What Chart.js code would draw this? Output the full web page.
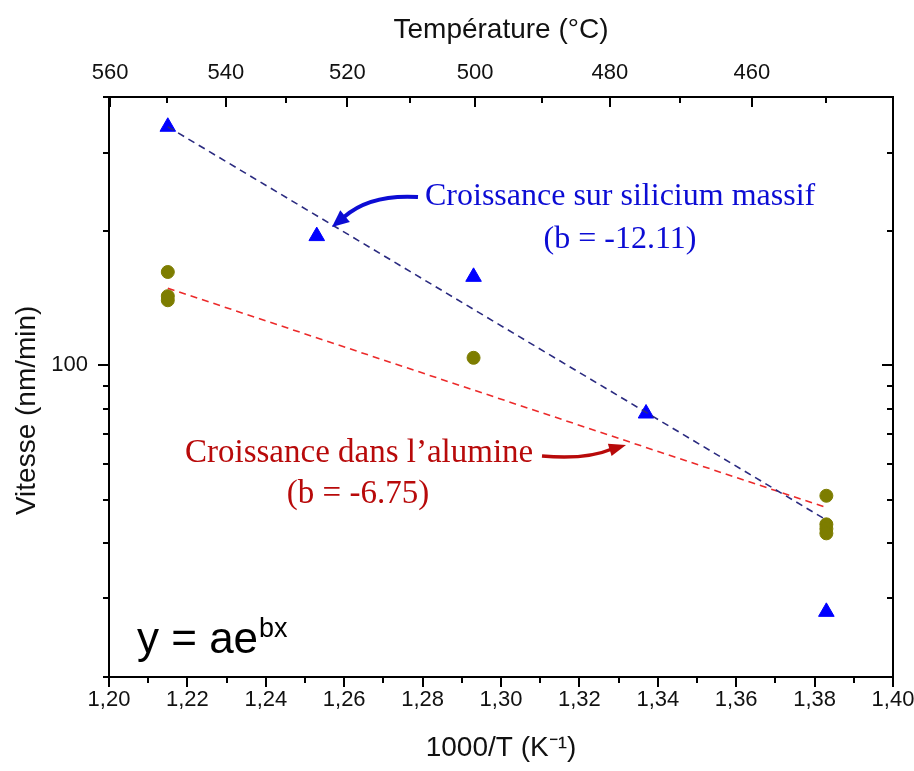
<!DOCTYPE html>
<html>
<head>
<meta charset="utf-8">
<script src="https://cdn.jsdelivr.net/npm/chart.js@4.4.0/dist/chart.umd.min.js"></script>
<style>
  html, body { margin: 0; padding: 0; background: #fff; }
</style>
</head>
<body>
<canvas id="chart" width="914" height="771"></canvas>
<script>
// 1000/T (K^-1) of the growth temperatures 550, 525, 500, 475, 450 °C
const invTemp = [1.215, 1.253, 1.293, 1.337, 1.383];
// growth rate on bulk silicon (nm/min)
const siliconRate = [343, 195, 158, 78, 28];
// growth rate inside the alumina (nm/min)
const aluminaX = [1.215, 1.215, 1.215, 1.293, 1.383, 1.383, 1.383, 1.383];
const aluminaRate = [162, 143, 140, 104, 51, 44, 43, 42];
// end points of the fitted exponentials y = a e^(bx)
const siliconFitX = [1.215, 1.383];
const siliconFitY = [343, 45];
const aluminaFitX = [1.215, 1.383];
const aluminaFitY = [149, 48];

// axis ticks
const xTicks = [1.20, 1.21, 1.22, 1.23, 1.24, 1.25, 1.26, 1.27, 1.28, 1.29, 1.30,
                1.31, 1.32, 1.33, 1.34, 1.35, 1.36, 1.37, 1.38, 1.39, 1.40];
const tempTicks = [560, 550, 540, 530, 520, 510, 500, 490, 480, 470, 460, 450];
const yTicks = [20, 30, 40, 50, 60, 70, 80, 90, 100, 200, 300, 400];

const SANS = "'Liberation Sans', Arial, sans-serif";
const SERIF = "'Liberation Serif', 'Times New Roman', serif";

function toPoints(xs, ys) {
  return xs.map((x, i) => ({ x: x, y: ys[i] }));
}

// draw tick marks by hand: some point in, some out, majors longer
const tickMarks = {
  id: 'tickMarks',
  afterDraw(chart) {
    const ctx = chart.ctx;
    const s = chart.scales;
    ctx.save();
    ctx.strokeStyle = '#000';
    ctx.lineWidth = 2;
    ctx.beginPath();
    // bottom, outward
    s.x.ticks.forEach((t) => {
      const px = Math.round(s.x.getPixelForValue(t.value));
      const len = Math.round(t.value * 100) % 2 === 0 ? 10 : 6;
      ctx.moveTo(px, s.x.top);
      ctx.lineTo(px, s.x.top + len);
    });
    // top, inward
    s.xTop.ticks.forEach((t) => {
      const px = Math.round(s.xTop.getPixelForValue(t.value));
      const deg = Math.round(1000 / t.value - 273.15);
      const len = deg % 20 === 0 ? 10 : 6;
      ctx.moveTo(px, s.xTop.bottom);
      ctx.lineTo(px, s.xTop.bottom + len);
    });
    // left, outward
    s.y.ticks.forEach((t) => {
      const py = Math.round(s.y.getPixelForValue(t.value));
      const len = t.value === 100 ? 11 : 6;
      ctx.moveTo(s.y.right, py);
      ctx.lineTo(s.y.right - len, py);
    });
    // right, inward
    s.yRight.ticks.forEach((t) => {
      const py = Math.round(s.yRight.getPixelForValue(t.value));
      const len = t.value === 100 ? 11 : 6;
      ctx.moveTo(s.yRight.left, py);
      ctx.lineTo(s.yRight.left - len, py);
    });
    ctx.stroke();
    ctx.restore();
  }
};

function arrowHead(ctx, tipX, tipY, fromX, fromY, len, width) {
  const a = Math.atan2(tipY - fromY, tipX - fromX);
  ctx.beginPath();
  ctx.moveTo(tipX, tipY);
  ctx.lineTo(tipX - len * Math.cos(a) + width / 2 * Math.sin(a), tipY - len * Math.sin(a) - width / 2 * Math.cos(a));
  ctx.lineTo(tipX - len * Math.cos(a) - width / 2 * Math.sin(a), tipY - len * Math.sin(a) + width / 2 * Math.cos(a));
  ctx.closePath();
  ctx.fill();
}

// labels, arrows and the equation
const notes = {
  id: 'notes',
  afterDatasetsDraw(chart) {
    const ctx = chart.ctx;
    ctx.save();
    ctx.textBaseline = 'middle';

    // silicon label
    ctx.fillStyle = '#0c0cd4';
    ctx.font = '32px ' + SERIF;
    ctx.textAlign = 'left';
    ctx.fillText('Croissance sur silicium massif', 425, 197);
    ctx.textAlign = 'center';
    ctx.fillText('(b = -12.11)', 620, 240);

    ctx.strokeStyle = '#0c0cd4';
    ctx.lineWidth = 4;
    ctx.beginPath();
    ctx.moveTo(418, 197);
    ctx.quadraticCurveTo(370, 194, 344, 217);
    ctx.stroke();
    arrowHead(ctx, 332, 227, 350, 212, 17, 15);

    // alumina label
    ctx.fillStyle = '#b80a0a';
    ctx.font = '33px ' + SERIF;
    ctx.textAlign = 'left';
    ctx.fillText('Croissance dans l\u2019alumine', 185, 453);
    ctx.textAlign = 'center';
    ctx.fillText('(b = -6.75)', 358, 494);

    ctx.strokeStyle = '#b80a0a';
    ctx.lineWidth = 3.5;
    ctx.beginPath();
    ctx.moveTo(542, 456);
    ctx.quadraticCurveTo(586, 460, 612, 449);
    ctx.stroke();
    arrowHead(ctx, 626, 445, 606, 451, 17, 13);

    // equation
    ctx.fillStyle = '#000';
    ctx.textAlign = 'left';
    ctx.textBaseline = 'alphabetic';
    ctx.font = '44px ' + SANS;
    ctx.fillText('y = ae', 137, 653);
    const w = ctx.measureText('y = ae').width;
    ctx.font = '27px ' + SANS;
    ctx.fillText('bx', 137 + w + 1, 637);
    ctx.restore();
  }
};

const tickFont = { family: SANS, size: 22 };
const titleFont = { family: SANS, size: 28 };
const border = { display: true, color: '#000', width: 2 };
const noGrid = { display: false, drawTicks: false };

function fixSize(prop, size) {
  return (scale) => {
    scale[prop] = size;
    scale.paddingLeft = 0;
    scale.paddingRight = 0;
    scale.paddingTop = 0;
    scale.paddingBottom = 0;
  };
}

new Chart(document.getElementById('chart'), {
  type: 'scatter',
  data: {
    datasets: [
      {
        label: 'fit silicium',
        data: toPoints(siliconFitX, siliconFitY),
        showLine: true,
        borderColor: '#2b2b80',
        borderWidth: 1.6,
        borderDash: [7, 5],
        pointRadius: 0,
        order: 0
      },
      {
        label: 'fit alumine',
        data: toPoints(aluminaFitX, aluminaFitY),
        showLine: true,
        borderColor: '#ec2a2a',
        borderWidth: 1.6,
        borderDash: [7, 5],
        pointRadius: 0,
        order: 0
      },
      {
        label: 'Croissance sur silicium massif',
        data: toPoints(invTemp, siliconRate),
        pointStyle: 'triangle',
        pointRadius: 9,
        backgroundColor: '#0000ff',
        borderColor: '#0000ff',
        borderWidth: 1,
        order: 1
      },
      {
        label: 'Croissance dans l\u2019alumine',
        data: toPoints(aluminaX, aluminaRate),
        pointStyle: 'circle',
        pointRadius: 6.5,
        backgroundColor: '#7d7d00',
        borderColor: '#7d7d00',
        borderWidth: 1,
        order: 1
      }
    ]
  },
  options: {
    responsive: false,
    animation: false,
    devicePixelRatio: 1,
    layout: { padding: 0 },
    plugins: {
      legend: { display: false },
      tooltip: { enabled: false }
    },
    scales: {
      x: {
        type: 'linear',
        position: 'bottom',
        min: 1.2,
        max: 1.4,
        grid: noGrid,
        border: border,
        afterBuildTicks: (scale) => { scale.ticks = xTicks.map((v) => ({ value: v })); },
        afterFit: fixSize('height', 94),
        ticks: {
          autoSkip: false,
          maxRotation: 0,
          padding: 10,
          color: '#111',
          font: tickFont,
          callback: (v) => Math.round(v * 100) % 2 === 0 ? v.toFixed(2).replace('.', ',') : ''
        },
        title: {
          display: true,
          text: '1000/T (K\u207B\u00B9)',
          color: '#111',
          font: titleFont,
          padding: { top: 0, bottom: 6 }
        }
      },
      xTop: {
        type: 'linear',
        position: 'top',
        min: 1.2,
        max: 1.4,
        grid: noGrid,
        border: border,
        afterBuildTicks: (scale) => {
          scale.ticks = tempTicks.map((t) => ({ value: 1000 / (t + 273.15) }));
        },
        afterFit: fixSize('height', 97),
        ticks: {
          autoSkip: false,
          maxRotation: 0,
          padding: 11,
          color: '#111',
          font: tickFont,
          callback: (v) => {
            const deg = Math.round(1000 / v - 273.15);
            return deg % 20 === 0 ? String(deg) : '';
          }
        },
        title: {
          display: true,
          text: 'Température (°C)',
          color: '#111',
          font: titleFont,
          padding: { top: 13, bottom: 0 }
        }
      },
      y: {
        type: 'logarithmic',
        position: 'left',
        min: 20,
        max: 400,
        grid: noGrid,
        border: border,
        afterBuildTicks: (scale) => { scale.ticks = yTicks.map((v) => ({ value: v })); },
        afterFit: fixSize('width', 109),
        ticks: {
          autoSkip: false,
          padding: 21,
          color: '#111',
          font: tickFont,
          callback: (v) => v === 100 ? '100' : ''
        },
        title: {
          display: true,
          text: 'Vitesse (nm/min)\u00A0\u00A0\u00A0\u00A0\u00A0\u00A0',
          color: '#111',
          font: titleFont,
          padding: { top: 10, bottom: 0 }
        }
      },
      yRight: {
        type: 'logarithmic',
        position: 'right',
        min: 20,
        max: 400,
        grid: noGrid,
        border: border,
        afterBuildTicks: (scale) => { scale.ticks = yTicks.map((v) => ({ value: v })); },
        afterFit: fixSize('width', 21),
        ticks: { display: false }
      }
    }
  },
  plugins: [tickMarks, notes]
});
</script>
</body>
</html>
